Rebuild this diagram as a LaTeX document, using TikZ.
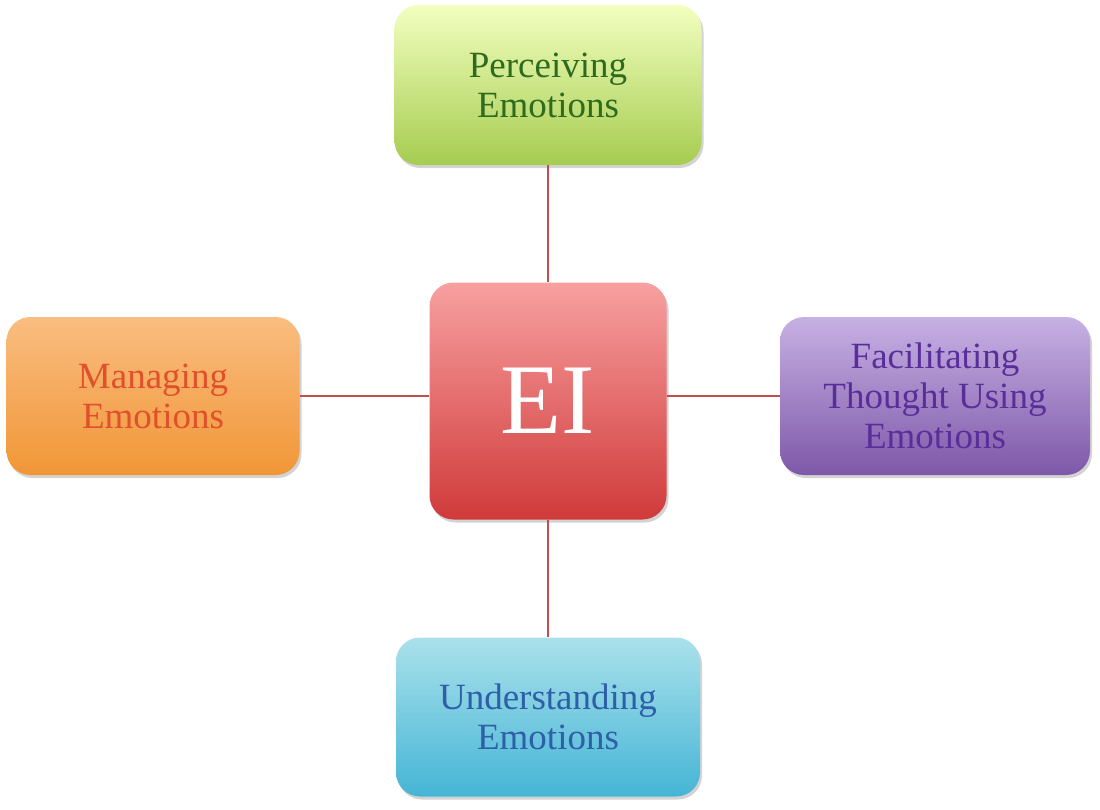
\documentclass[tikz,border=0pt]{standalone}
\usepackage{fontspec}
\setmainfont{Liberation Serif}
\usetikzlibrary{shadows}
\definecolor{ln}{HTML}{C0504D}
\tikzset{
 box/.style={rounded corners=24pt,draw=none,drop shadow={shadow xshift=2pt,shadow yshift=-3pt,opacity=.35},font=\fontsize{37}{40}\selectfont,align=center,inner sep=0pt},
 conn/.style={draw=ln,line width=1.2pt}
}
\begin{document}
\begin{tikzpicture}[x=1pt,y=-1pt]
\useasboundingbox (0,0) rectangle (1100,809);
\node[box,minimum width=307pt,minimum height=160pt,top color=green!20!yellow!25!white,bottom color={rgb,255:red,166;green,204;blue,80},text={rgb,255:red,46;green,107;blue,30}] (p) at (548,85) {Perceiving\\Emotions};
\node[box,minimum width=237pt,minimum height=237pt,top color={rgb,255:red,248;green,160;blue,160},bottom color={rgb,255:red,208;green,58;blue,58},text=white,font=\fontsize{100}{100}\selectfont] (ei) at (548,401) {EI};
\node[box,minimum width=293pt,minimum height=158pt,top color={rgb,255:red,249;green,189;blue,128},bottom color={rgb,255:red,241;green,150;blue,55},text={rgb,255:red,224;green,80;blue,42}] (m) at (153,396) {Managing\\Emotions};
\node[box,minimum width=310pt,minimum height=158pt,top color={rgb,255:red,199;green,177;blue,228},bottom color={rgb,255:red,126;green,88;blue,168},text={rgb,255:red,90;green,46;blue,154}] (f) at (935,396) {Facilitating\\Thought Using\\Emotions};
\node[box,minimum width=304pt,minimum height=159pt,top color={rgb,255:red,170;green,225;blue,235},bottom color={rgb,255:red,69;green,181;blue,213},text={rgb,255:red,46;green,95;blue,168}] (u) at (548,717) {Understanding\\Emotions};
\draw[conn] (p) -- (ei);
\draw[conn] (ei) -- (u);
\draw[conn] (m.east) -- (m.east -| ei.west);
\draw[conn] (f.west -| ei.east) -- (f.west);
\end{tikzpicture}
\end{document}
